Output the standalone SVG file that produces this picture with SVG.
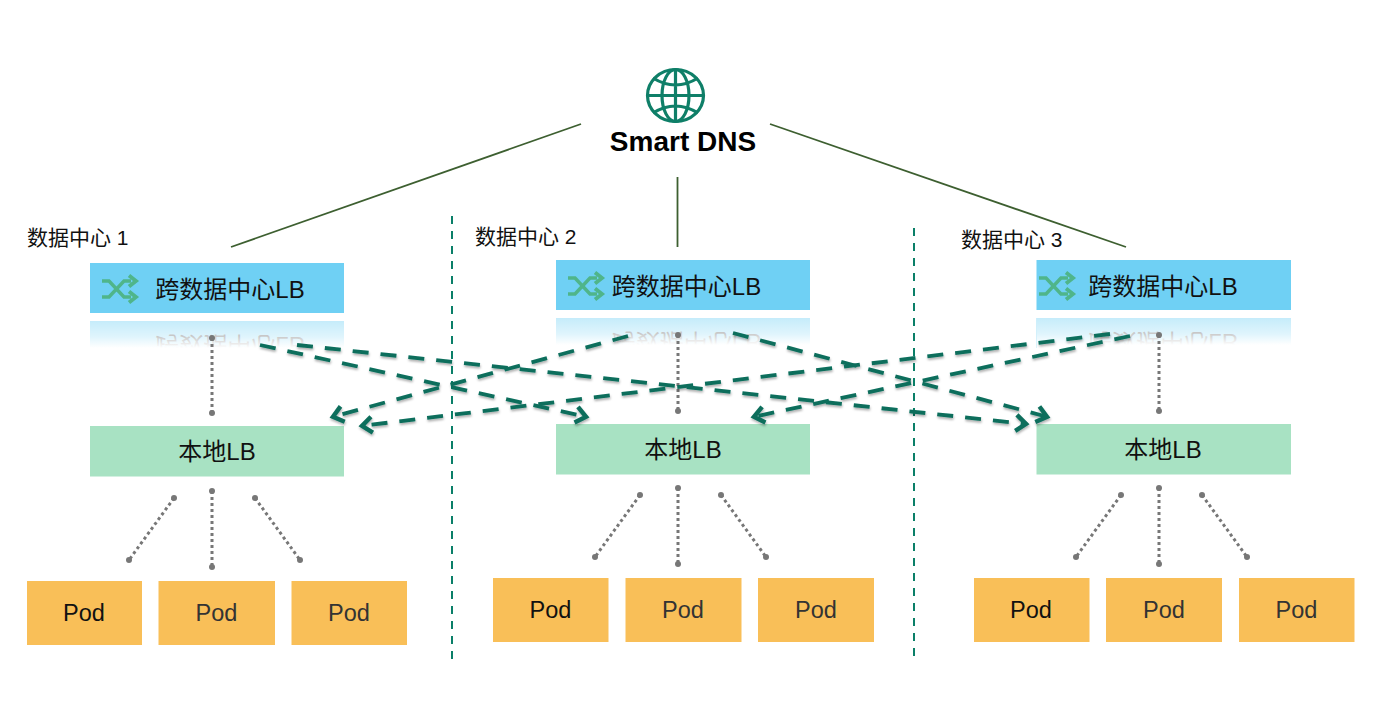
<svg xmlns="http://www.w3.org/2000/svg" xmlns:xlink="http://www.w3.org/1999/xlink" width="1374" height="716" viewBox="0 0 1374 716">
<style>
text{font-family:"Liberation Sans","Noto Sans CJK SC",sans-serif;fill:#111}
.dc{font-size:21px}
.lb{font-size:24px;text-anchor:middle}
.pod{font-size:23.5px;text-anchor:middle;fill:#333}
.pod.d{fill:#111}
.blue{fill:#6fd0f4}
.green{fill:#a8e2c3}
.orange{fill:#f9bf58}
.trunk{stroke:#3d5f30;stroke-width:1.8;fill:none}
.sep{stroke:#0a7f68;stroke-width:2;stroke-dasharray:8 7;fill:none}
.dot{stroke:#777;stroke-width:3;stroke-dasharray:3 3;fill:none}
.end{fill:#777}
.flow{stroke:#0a6e5c;stroke-width:3.8;stroke-dasharray:16 12;fill:none;marker-end:url(#arrow)}
.shuffle{stroke:#4fb58a;stroke-width:3.4;fill:none;stroke-linejoin:miter}
.globe{stroke:#0f7f68;stroke-width:3.2;fill:none}
</style>
<defs>
<marker id="arrow" markerUnits="userSpaceOnUse" markerWidth="30" markerHeight="30" refX="24" refY="15" orient="auto">
<path d="M13 7L23 15L13 23" fill="none" stroke="#0a6e5c" stroke-width="4.4"/>
</marker>
<linearGradient id="fade" x1="0" y1="0" x2="0" y2="1">
<stop offset="0" stop-color="#fff" stop-opacity=".6"/>
<stop offset=".35" stop-color="#fff" stop-opacity=".78"/>
<stop offset=".6" stop-color="#fff" stop-opacity="1"/>
<stop offset="1" stop-color="#fff" stop-opacity="1"/>
</linearGradient>
<filter id="shadow" x="-5%" y="-20%" width="110%" height="140%">
<feDropShadow dx="0.5" dy="2" stdDeviation="1.2" flood-color="#000" flood-opacity=".3"/>
</filter>
<g id="shuf" class="shuffle">
<path d="M1 7H8L23 23H30M1 23H8L23 7H30"/>
<path d="M28 1.500L35 7L28 12.500M28 17.500L35 23L28 28.500" stroke-width="3.800"/>
</g>
</defs>
<rect width="1374" height="716" fill="#fff"/>

<g id="smart-dns">
<g class="globe">
<ellipse cx="675.500" cy="95.500" rx="28" ry="26"/>
<ellipse cx="675.500" cy="95.500" rx="13.500" ry="26"/>
<path d="M675.500 69.500V121.500M647.500 95.500H703.500M653 78Q675.500 92 698 78M653 113Q675.500 99 698 113"/>
</g>
<text x="683" y="151" font-size="28" font-weight="700" text-anchor="middle" style="fill:#000">Smart DNS</text>
</g>

<g id="dc1">
<text class="dc" x="27" y="245">数据中心 1</text>
<g id="dc1-global-lb">
<rect class="blue" x="90" y="263" width="254" height="50"/>
<use xlink:href="#shuf" href="#shuf" x="101" y="274"/>
<text class="lb" x="230" y="298">跨数据中心LB</text>
<rect class="blue" x="90" y="321" width="254" height="30"/>
<text class="lb" x="230" y="298" transform="translate(0 635) scale(1 -1)">跨数据中心LB</text>
<rect x="90" y="321" width="254" height="45" fill="url(#fade)"/>
</g>
<g id="dc1-local-lb"><rect class="green" x="90" y="426" width="254" height="50.500"/><text class="lb" x="217" y="460">本地LB</text></g>
<g id="dc1-pod1"><rect class="orange" x="27" y="581" width="115" height="64"/><text class="pod d" x="84" y="621">Pod</text></g>
<g id="dc1-pod2"><rect class="orange" x="158.500" y="581" width="116.500" height="64"/><text class="pod" x="216.500" y="621">Pod</text></g>
<g id="dc1-pod3"><rect class="orange" x="291.500" y="581" width="115.500" height="64"/><text class="pod" x="349" y="621">Pod</text></g>
</g>

<g id="dc2">
<text class="dc" x="475" y="244">数据中心 2</text>
<g id="dc2-global-lb">
<rect class="blue" x="556" y="260" width="254" height="50"/>
<use xlink:href="#shuf" href="#shuf" x="567" y="271"/>
<text class="lb" x="686.500" y="295">跨数据中心LB</text>
<rect class="blue" x="556" y="318" width="254" height="30"/>
<text class="lb" x="686.500" y="295" transform="translate(0 629) scale(1 -1)">跨数据中心LB</text>
<rect x="556" y="318" width="254" height="45" fill="url(#fade)"/>
</g>
<g id="dc2-local-lb"><rect class="green" x="556" y="424" width="254" height="50.500"/><text class="lb" x="683" y="458">本地LB</text></g>
<g id="dc2-pod1"><rect class="orange" x="493" y="578" width="115.500" height="64"/><text class="pod d" x="550.500" y="618">Pod</text></g>
<g id="dc2-pod2"><rect class="orange" x="625.500" y="578" width="116" height="64"/><text class="pod" x="683" y="618">Pod</text></g>
<g id="dc2-pod3"><rect class="orange" x="758" y="578" width="116" height="64"/><text class="pod" x="816" y="618">Pod</text></g>
</g>

<g id="dc3">
<text class="dc" x="961" y="247">数据中心 3</text>
<g id="dc3-global-lb">
<rect class="blue" x="1036.500" y="260" width="254.500" height="50"/>
<use xlink:href="#shuf" href="#shuf" x="1038" y="271"/>
<text class="lb" x="1163" y="295">跨数据中心LB</text>
<rect class="blue" x="1036.500" y="318" width="254.500" height="30"/>
<text class="lb" x="1163" y="295" transform="translate(0 629) scale(1 -1)">跨数据中心LB</text>
<rect x="1036.500" y="318" width="254.500" height="45" fill="url(#fade)"/>
</g>
<g id="dc3-local-lb"><rect class="green" x="1036.500" y="424" width="254.500" height="50.500"/><text class="lb" x="1163" y="458">本地LB</text></g>
<g id="dc3-pod1"><rect class="orange" x="974" y="578" width="115.500" height="64"/><text class="pod d" x="1031" y="618">Pod</text></g>
<g id="dc3-pod2"><rect class="orange" x="1106" y="578" width="116" height="64"/><text class="pod" x="1164" y="618">Pod</text></g>
<g id="dc3-pod3"><rect class="orange" x="1239" y="578" width="115.500" height="64"/><text class="pod" x="1296.500" y="618">Pod</text></g>
</g>

<g id="connectors">
<g id="trunks">
<path class="trunk" d="M231 247L581 124"/>
<path class="trunk" d="M677.500 177V247"/>
<path class="trunk" d="M770 124L1126 247"/>
</g>
<g id="separators">
<path class="sep" d="M452 216V659"/>
<path class="sep" d="M914 228V659"/>
</g>
<g id="dotted">
<path class="dot" d="M212 338V413M174 498L129 560M212 491V567M255 498L300 560"/>
<circle class="end" cx="212" cy="338" r="3"/><circle class="end" cx="212" cy="413" r="3"/>
<circle class="end" cx="174" cy="498" r="3"/><circle class="end" cx="129" cy="560" r="3"/>
<circle class="end" cx="212" cy="491" r="3"/><circle class="end" cx="212" cy="567" r="3"/>
<circle class="end" cx="255" cy="498" r="3"/><circle class="end" cx="300" cy="560" r="3"/>
<path class="dot" d="M678 335V411M640 495L595 557M678 488V564M721 495L766 557"/>
<circle class="end" cx="678" cy="335" r="3"/><circle class="end" cx="678" cy="411" r="3"/>
<circle class="end" cx="640" cy="495" r="3"/><circle class="end" cx="595" cy="557" r="3"/>
<circle class="end" cx="678" cy="488" r="3"/><circle class="end" cx="678" cy="564" r="3"/>
<circle class="end" cx="721" cy="495" r="3"/><circle class="end" cx="766" cy="557" r="3"/>
<path class="dot" d="M1159 335V411M1121 495L1076 557M1159 488V564M1202 495L1247 557"/>
<circle class="end" cx="1159" cy="335" r="3"/><circle class="end" cx="1159" cy="411" r="3"/>
<circle class="end" cx="1121" cy="495" r="3"/><circle class="end" cx="1076" cy="557" r="3"/>
<circle class="end" cx="1159" cy="488" r="3"/><circle class="end" cx="1159" cy="564" r="3"/>
<circle class="end" cx="1202" cy="495" r="3"/><circle class="end" cx="1247" cy="557" r="3"/>
</g>
<g id="flows" filter="url(#shadow)">
<path class="flow" d="M297 345L1027 424"/>
<path class="flow" d="M260 345L587 417"/>
<path class="flow" d="M628 336L332 417"/>
<path class="flow" d="M733 333L1048 417"/>
<path class="flow" d="M1110 334L361 426"/>
<path class="flow" d="M1130 336L753 417"/>
</g>
</g>
</svg>
